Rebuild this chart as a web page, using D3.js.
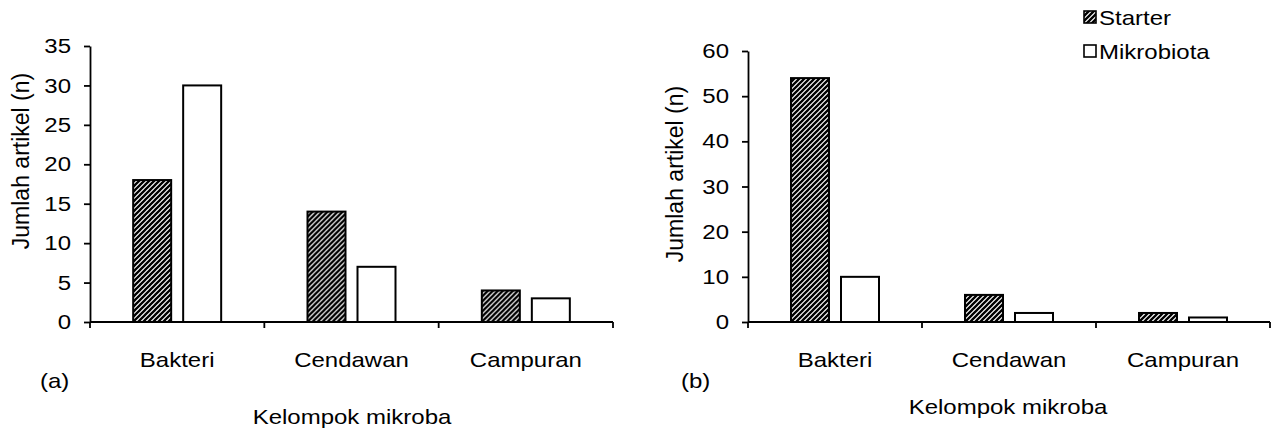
<!DOCTYPE html>
<html><head><meta charset="utf-8">
<script src="https://cdn.jsdelivr.net/npm/d3@7"></script>
<style>
body{margin:0;background:#fff}
svg text{font-family:"Liberation Sans",Arial,Helvetica,sans-serif;fill:#000}
</style>
</head><body>
<svg id="c" width="1271" height="432"></svg>
<script>
// ---- data ----
const categories = ["Bakteri", "Cendawan", "Campuran"];
const seriesNames = ["Starter", "Mikrobiota"];
const starterA = [18, 14, 4];
const mikrobiotaA = [30, 7, 3];
const starterB = [54, 6, 2];
const mikrobiotaB = [10, 2, 1];
const ticksA = [0, 5, 10, 15, 20, 25, 30, 35];
const ticksB = [0, 10, 20, 30, 40, 50, 60];
const panelLabels = ["(a)", "(b)"];
const xTitle = "Kelompok mikroba";
const yTitle = "Jumlah artikel (n)";

const svg = d3.select("#c");
const defs = svg.append("defs");
const pat = defs.append("pattern").attr("id", "hatch")
  .attr("patternUnits", "userSpaceOnUse").attr("width", 5).attr("height", 5);
pat.append("rect").attr("width", 5).attr("height", 5).attr("fill", "#fff");
pat.append("path").attr("d", "M-1,6 L6,-1 M-1,1 L1,-1 M4,6 L6,4")
  .attr("stroke", "#000").attr("stroke-width", 2.3);

const FS = 24, SQ = 0.86;
function sq(g, x, y, str, anchor) {
  return g.append("text")
    .attr("transform", `translate(${x},${y}) scale(1,${SQ})`)
    .attr("text-anchor", anchor || "start")
    .style("font-size", FS + "px")
    .text(str);
}

const fills = { "Starter": "url(#hatch)", "Mikrobiota": "#fff" };

function panel(cfg) {
  const g = svg.append("g");
  const x0 = d3.scaleBand().domain(categories).range([cfg.left, cfg.right]);
  const bw = x0.bandwidth();
  const x1 = d3.scaleBand().domain(seriesNames)
    .range([(bw - 90) / 2, (bw + 90) / 2]).paddingInner(0.2);
  const y = d3.scaleLinear().domain([0, cfg.yMax]).range([cfg.bottom, cfg.top]);

  const rows = categories.map((c, i) => ({ c, vals: [
    { s: "Starter", v: cfg.starter[i] },
    { s: "Mikrobiota", v: cfg.mikro[i] }] }));

  // bars
  g.selectAll("g.grp").data(rows).join("g").attr("class", "grp")
    .attr("transform", d => `translate(${x0(d.c)},0)`)
    .selectAll("rect").data(d => d.vals).join("rect")
    .attr("x", d => x1(d.s) + 1)
    .attr("width", x1.bandwidth() - 2)
    .attr("y", d => y(d.v))
    .attr("height", d => y(0) - y(d.v))
    .attr("fill", d => fills[d.s])
    .attr("stroke", "#000").attr("stroke-width", 2);

  // y axis
  const ya = g.append("g").attr("transform", `translate(${cfg.left},0)`)
    .call(d3.axisLeft(y).tickValues(cfg.ticks).tickSize(6).tickSizeOuter(0).tickPadding(13));
  ya.select(".domain").attr("stroke-width", 1.8);
  ya.selectAll(".tick line").attr("stroke-width", 1.8);
  ya.selectAll(".tick text").attr("transform", `scale(1,${SQ})`)
    .style("font-size", FS + "px").attr("font-family", null);

  // x axis line + boundary ticks
  g.append("line").attr("x1", cfg.left).attr("x2", cfg.right)
    .attr("y1", y(0)).attr("y2", y(0)).attr("stroke", "#000").attr("stroke-width", 1.8);
  const bounds = categories.map(c => x0(c)).concat([cfg.right]);
  g.selectAll("line.bt").data(bounds).join("line").attr("class", "bt")
    .attr("x1", d => d).attr("x2", d => d)
    .attr("y1", y(0)).attr("y2", y(0) + 6)
    .attr("stroke", "#000").attr("stroke-width", 1.8);

  // category labels
  categories.forEach(c => sq(g, x0(c) + bw / 2, cfg.catY, c, "middle"));

  // panel label, x title
  sq(g, cfg.plX, cfg.plY, cfg.pl, "start");
  sq(g, cfg.xtX, cfg.xtY, xTitle, "middle");

  // y title
  g.append("text").attr("transform", `translate(${cfg.ytX},${cfg.ytY}) rotate(-90)`)
    .attr("text-anchor", "middle").style("font-size", "23px").text(yTitle);
}

panel({ left: 90, right: 613, top: 46, bottom: 322, yMax: 35, ticks: ticksA,
  starter: starterA, mikro: mikrobiotaA, catY: 367, pl: panelLabels[0], plX: 40, plY: 388,
  xtX: 352, xtY: 424, ytX: 29, ytY: 161 });
panel({ left: 748, right: 1270, top: 51, bottom: 322, yMax: 60, ticks: ticksB,
  starter: starterB, mikro: mikrobiotaB, catY: 367, pl: panelLabels[1], plX: 681, plY: 388,
  xtX: 1008, xtY: 414, ytX: 683, ytY: 174 });

// legend
const lg = svg.append("g");
seriesNames.forEach((s, i) => {
  lg.append("rect").attr("x", 1084).attr("y", 11 + i * 34).attr("width", 12).attr("height", 12)
    .attr("fill", fills[s]).attr("stroke", "#000").attr("stroke-width", 1.6);
  sq(lg, 1099, 25 + i * 34, s, "start");
});
</script>
</body></html>
